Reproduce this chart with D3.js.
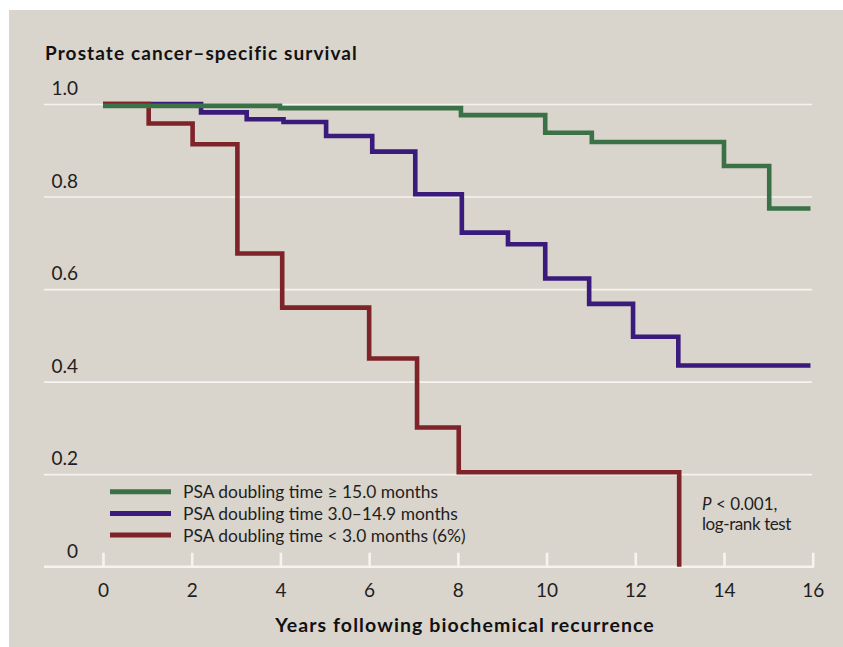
<!DOCTYPE html>
<html>
<head>
<meta charset="utf-8">
<script src="https://cdn.jsdelivr.net/npm/d3@7"></script>
<style>
  html, body { margin: 0; padding: 0; background: #ffffff; }
  svg { display: block; font-family: Lato, "Open Sans", sans-serif; }
</style>
</head>
<body>
<svg id="chart"></svg>
<script>
// Kaplan-Meier steps (years, survival)
var greenYears = [0, 3.99, 8.07, 9.97, 11.02, 14.0, 15.02, 15.95];
var greenSurv  = [0.996, 0.991, 0.976, 0.938, 0.918, 0.866, 0.774, 0.774];

var purpleYears = [0, 2.21, 3.24, 4.07, 5.03, 6.07, 7.04, 8.09, 9.13, 9.97, 10.96, 11.95, 12.97, 15.95];
var purpleSurv  = [1.0, 0.982, 0.967, 0.961, 0.931, 0.897, 0.805, 0.722, 0.697, 0.623, 0.568, 0.497, 0.435, 0.435];

var redYears = [0, 1.03, 2.02, 3.03, 4.04, 6.0, 7.08, 8.02, 12.99, 12.99];
var redSurv  = [1.0, 0.958, 0.913, 0.677, 0.56, 0.45, 0.301, 0.204, 0.204, 0];

var xTicks = [0, 2, 4, 6, 8, 10, 12, 14, 16];
var yTicks = [0, 0.2, 0.4, 0.6, 0.8, 1.0];
var yTickLabels = ["0", "0.2", "0.4", "0.6", "0.8", "1.0"];

var legendLabels = [
  "PSA doubling time \u2265 15.0 months",
  "PSA doubling time 3.0\u201314.9 months",
  "PSA doubling time < 3.0 months (6%)"
];
var colors = ["#3a7147", "#3a1a7a", "#7e2429"];

var width = 843, height = 647;

var svg = d3.select("#chart")
    .attr("width", width)
    .attr("height", height);

// panel
svg.append("rect")
    .attr("x", 9).attr("y", 10)
    .attr("width", width - 9).attr("height", height - 10)
    .attr("fill", "#d9d4cc");

var x = d3.scaleLinear().domain([0, 16]).range([103, 812.7]);
var y = d3.scaleLinear().domain([0, 1]).range([566.7, 104]);

var gridLeft = 44, gridRight = 812;

// gridlines
svg.append("g")
    .attr("class", "grid")
    .attr("transform", "translate(" + gridLeft + ",0)")
    .call(d3.axisRight(y)
        .tickValues(yTicks.filter(function(d) { return d > 0; }))
        .tickSize(gridRight - gridLeft)
        .tickFormat(""))
    .call(function(g) { g.select(".domain").remove(); })
    .selectAll("line")
    .attr("stroke", "#f6f4f0")
    .attr("stroke-width", 1.6);

// y tick labels sit above their lines
svg.append("g")
    .selectAll("text")
    .data(yTicks)
    .join("text")
    .attr("x", 78)
    .attr("y", function(d) { return y(d) - 9; })
    .attr("text-anchor", "end")
    .attr("font-size", 19)
    .attr("fill", "#1e1e1e")
    .text(function(d, i) { return yTickLabels[i]; });

// baseline
svg.append("line")
    .attr("x1", gridLeft).attr("x2", 814)
    .attr("y1", y(0)).attr("y2", y(0))
    .attr("stroke", "#f6f4f0")
    .attr("stroke-width", 2.6);

// x axis, ticks pointing up
var xAxis = svg.append("g")
    .attr("class", "axis x-axis")
    .attr("transform", "translate(0," + y(0) + ")")
    .call(d3.axisBottom(x)
        .tickValues(xTicks)
        .tickSizeInner(-14)
        .tickSizeOuter(0)
        .tickPadding(17)
        .tickFormat(d3.format("d")))
    .call(function(g) { g.select(".domain").remove(); });

xAxis.selectAll("line")
    .attr("stroke", "#f6f4f0")
    .attr("stroke-width", 2.6);
xAxis.selectAll("text")
    .attr("font-size", 19)
    .attr("font-family", "Lato, 'Open Sans', sans-serif")
    .attr("fill", "#1e1e1e");

// survival curves
var line = d3.line()
    .x(function(d) { return x(d[0]); })
    .y(function(d) { return y(d[1]); })
    .curve(d3.curveStepAfter);

var series = [
  {years: purpleYears, surv: purpleSurv, color: colors[1]},
  {years: redYears, surv: redSurv, color: colors[2]},
  {years: greenYears, surv: greenSurv, color: colors[0]}
];

series.forEach(function(s) {
  svg.append("path")
      .datum(d3.zip(s.years, s.surv))
      .attr("fill", "none")
      .attr("stroke", s.color)
      .attr("stroke-width", 4.6)
      .attr("stroke-linejoin", "miter")
      .attr("d", line);
});

// legend
var legend = svg.append("g").selectAll("g")
    .data(legendLabels)
    .join("g")
    .attr("transform", function(d, i) { return "translate(110," + (491.7 + i * 21.7) + ")"; });

legend.append("line")
    .attr("x1", 0).attr("x2", 61)
    .attr("stroke", function(d, i) { return colors[i]; })
    .attr("stroke-width", 5);

legend.append("text")
    .attr("x", 73)
    .attr("y", 6.6)
    .attr("font-size", 17.4)
    .attr("fill", "#1e1e1e")
    .text(function(d) { return d; });

// p-value note
var note = svg.append("text")
    .attr("x", 702).attr("y", 510)
    .attr("font-size", 17)
    .attr("fill", "#1e1e1e");
note.append("tspan").attr("font-style", "italic").text("P");
note.append("tspan").text(" < 0.001,");
svg.append("text")
    .attr("x", 702).attr("y", 530)
    .attr("font-size", 17)
    .attr("letter-spacing", -0.4)
    .attr("fill", "#1e1e1e")
    .text("log-rank test");

// titles
svg.append("text")
    .attr("x", 45).attr("y", 60)
    .attr("font-size", 19)
    .attr("font-weight", "bold")
    .attr("letter-spacing", 1.1)
    .attr("fill", "#111")
    .text("Prostate cancer\u2013specific survival");

svg.append("text")
    .attr("x", 465).attr("y", 632)
    .attr("text-anchor", "middle")
    .attr("font-size", 19.5)
    .attr("font-weight", "bold")
    .attr("letter-spacing", 1.1)
    .attr("fill", "#111")
    .text("Years following biochemical recurrence");
</script>
</body>
</html>
